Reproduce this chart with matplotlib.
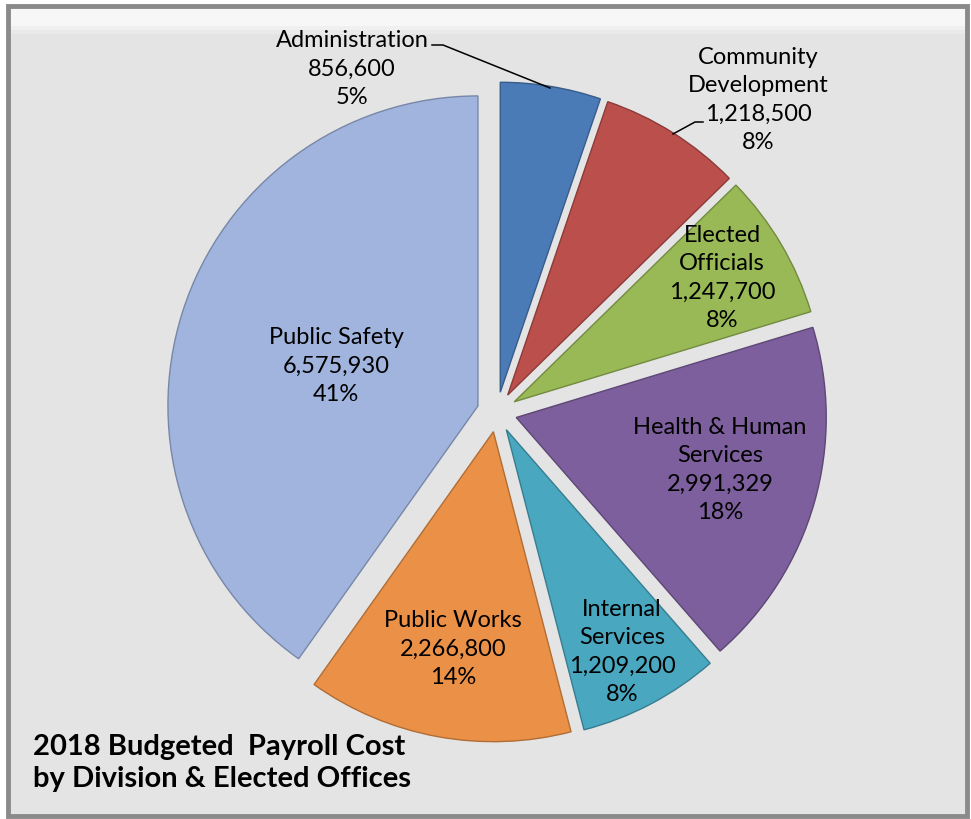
import numpy as np
import matplotlib
matplotlib.use("Agg")
import matplotlib.pyplot as plt
from matplotlib.patches import Rectangle
from matplotlib.colors import to_rgb

W, H = 971, 819

# payroll cost per division
divisions = ["Administration", "Community\nDevelopment", "Elected\nOfficials",
             "Health & Human\nServices", "Internal\nServices", "Public Works",
             "Public Safety"]
costs = [856600, 1218500, 1247700, 2991329, 1209200, 2266800, 6575930]
pct_labels = ["5%", "8%", "8%", "18%", "8%", "14%", "41%"]

colors = ["#4a7bb7", "#bb4f4c", "#98b955", "#7c5f9c", "#49a7c0", "#eb9147", "#a0b4de"]

# label anchor points (pixels from top-left)
label_xy = [(352, 69), (758, 100), (722, 278), (720, 470), (622, 652),
            (453, 649), (336, 366)]

plt.rcParams['font.family'] = ['Lato', 'DejaVu Sans']

fig = plt.figure(figsize=(W / 100, H / 100), dpi=100)
fig.patch.set_facecolor("white")
ax = fig.add_axes([0, 0, 1, 1])

# background panel with a light top bevel
grad = np.ones((200, 1, 3)) * 0.895
grad[:4] = 0.97
grad[4:8] = np.linspace(0.97, 0.895, 4)[:, None, None]
ax.imshow(grad, extent=(8, 967, H - 816, H - 6), aspect="auto", zorder=0)
ax.add_patch(Rectangle((8, H - 816), 959, 810, fill=False, ec="#8a8a8a", lw=3.5, zorder=1))

# explode is in data units here (pixels)
wedges, _ = ax.pie(costs, colors=colors, startangle=90, counterclock=False,
                   center=(497, H - 412), radius=310, explode=[20] * len(costs),
                   frame=True)
for w, c in zip(wedges, colors):
    dark = tuple(v * 0.75 for v in to_rgb(c))
    w.set_edgecolor(dark)
    w.set_linewidth(1.0)
    w.set_zorder(2)

ax.set_xlim(0, W)
ax.set_ylim(0, H)
ax.set_aspect("auto")
ax.axis("off")

for name, val, pct, (x, y) in zip(divisions, costs, pct_labels, label_xy):
    txt = f"{name}\n{val:,}\n{pct}"
    ax.text(x, H - y, txt, ha="center", va="center", fontsize=17,
            linespacing=1.45, color="black", zorder=5)

# leader lines for the two outside labels
ax.plot([432, 443, 550], [H - 45, H - 45, H - 88], color="black", lw=1.1, zorder=4)
ax.plot([703, 695, 673], [H - 122, H - 122, H - 134], color="black", lw=1.1, zorder=4)

ax.text(33, H - 763, "2018 Budgeted  Payroll Cost\nby Division & Elected Offices",
        ha="left", va="center", fontsize=21, fontweight="bold", linespacing=1.33, zorder=5)

fig.savefig("out.png", dpi=100, facecolor=fig.get_facecolor())
